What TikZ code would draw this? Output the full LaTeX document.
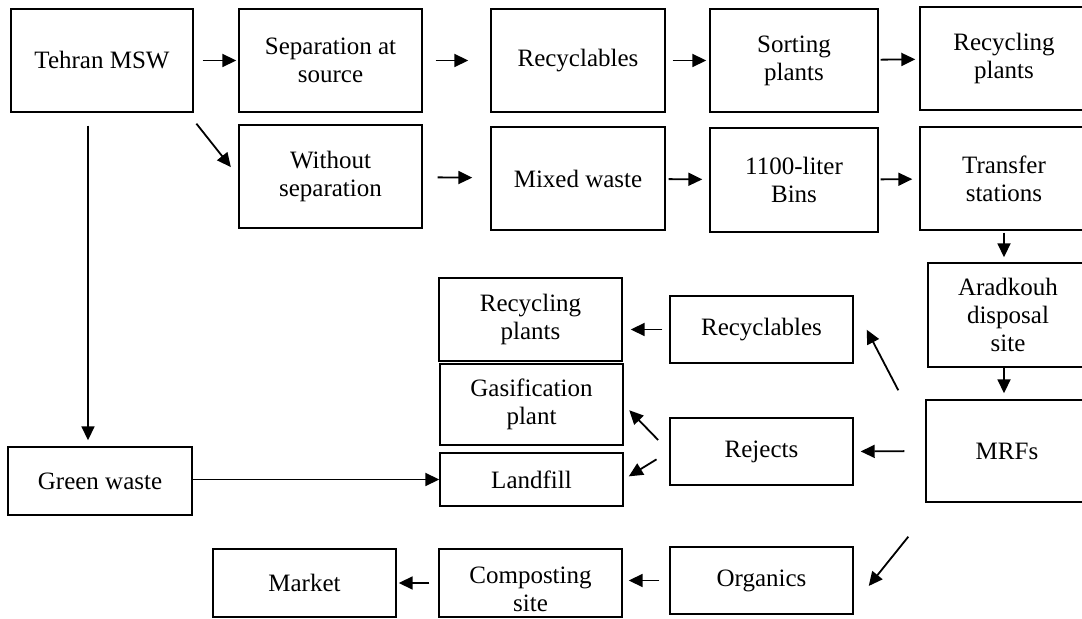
\documentclass[tikz,border=0pt]{standalone}
\usepackage{fontspec}
\setmainfont{Liberation Serif}
\usetikzlibrary{arrows.meta}

\begin{document}
\begin{tikzpicture}[x=0.5pt,y=-0.5pt,->,>={Triangle[length=7pt,width=6.5pt]},line width=0.9pt,
    stage/.style={draw,line width=0.7pt,align=center,inner sep=0pt,font=\fontsize{12.5}{14}\selectfont},
    wh/.style 2 args={minimum width=#1pt,minimum height=#2pt},
    gap/.style 2 args={shorten <=#1pt,shorten >=#2pt}]
                \useasboundingbox (0,0) rectangle (1082,619);

                \node[stage,wh={91}{51.5}] (1) at (102,60.5) {Tehran MSW};
                \node[stage,wh={91.5}{51.5}] (2) at (330.5,60.5) {Separation at\\source};
                \node[stage,wh={87}{51.5}] (3) at (578,60.5) {Recyclables};
                \node[stage,wh={84}{51.5}] (4) at (794,60.5) {Sorting\\plants};
                \node[stage,wh={84}{51.5}] (5) at (1004,58.5) {Recycling\\plants};
                \node[stage,wh={91.5}{51.5}] (6) at (330.5,176.5) {Without\\separation};
                \node[stage,wh={87}{51.5}] (7) at (578,178.5) {Mixed waste};
                \node[stage,wh={84}{52}] (8) at (794,180) {1100-liter\\Bins};
                \node[stage,wh={84}{51.5}] (9) at (1004,178.5) {Transfer\\stations};
                \node[stage,wh={80}{52}] (10) at (1008,315) {Aradkouh\\disposal\\site};
                \node[stage,wh={81}{51}] (11) at (1007,451) {MRFs};
                \node[stage,wh={91.5}{33.5}] (12) at (761.5,329.5) {Recyclables};
                \node[stage,wh={91.5}{41.5}] (13) at (530.5,319.5) {Recycling\\plants};
                \node[stage,wh={91.5}{40.5}] (14) at (531.5,404.5) {Gasification\\plant};
                \node[stage,wh={91.5}{26.5}] (15) at (531.5,479.5) {Landfill};
                \node[stage,wh={91.5}{33.5}] (16) at (761.5,451.5) {Rejects};
                \node[stage,wh={92}{34}] (17) at (100,481) {Green waste};
                \node[stage,wh={91.5}{34}] (18) at (304.5,583) {Market};
                \node[stage,wh={91.5}{34}] (19) at (530.5,583) {\rule{0pt}{15pt}Composting\\site};
                \node[stage,wh={91.5}{33.5}] (20) at (761.5,580.5) {Organics};
                \coordinate (t) at ([xshift=-7pt]1.south);

                \path
                    (1) edge[gap={4.5}{1}] (2)
                    (2) edge[gap={6.5}{11}] (3)
                    (3) edge[gap={3.5}{1.5}] (4)
                    (4) edge[gap={1}{2}] (5)
                    ([xshift=-3pt]1.south east) edge[gap={7}{6}] (6.west)
                    (6) edge[gap={7.5}{9}] (7)
                    (7) edge[gap={1.5}{3.5}] (8)
                    (8) edge[gap={1}{3.5}] (9)
                    (9.south) edge[gap={1}{2.5}] (9.south |- 10.north)
                    (9.south |- 10.south) edge[gap={0}{3}] (9.south |- 11.north)
                    ([shift={(-27,-9)}]11.north west) edge ([shift={(13,-34)}]12.south east)
                    (11.west) edge[gap={10.5}{3.5}] (16.east)
                    (16.west) edge[gap={8}{4}] (14.east)
                    (16.west) edge[gap={7.5}{3}] (15.east)
                    (12.west) edge[gap={3.5}{4}] (12.west -| 13.east)
                    ([shift={(-17,34)}]11.south west) edge ([shift={(15,5.5)}]20.east)
                    (20.west) edge[gap={5}{3}] (20.west -| 19.east)
                    (19.west |- 18.east) edge[gap={4.5}{1}] (18.east)
                    (17.east |- 15.west) edge (15.west)
                    (t) edge[gap={6.5}{3}] (t |- 17.north)
                    ;
            \end{tikzpicture}
\end{document}
